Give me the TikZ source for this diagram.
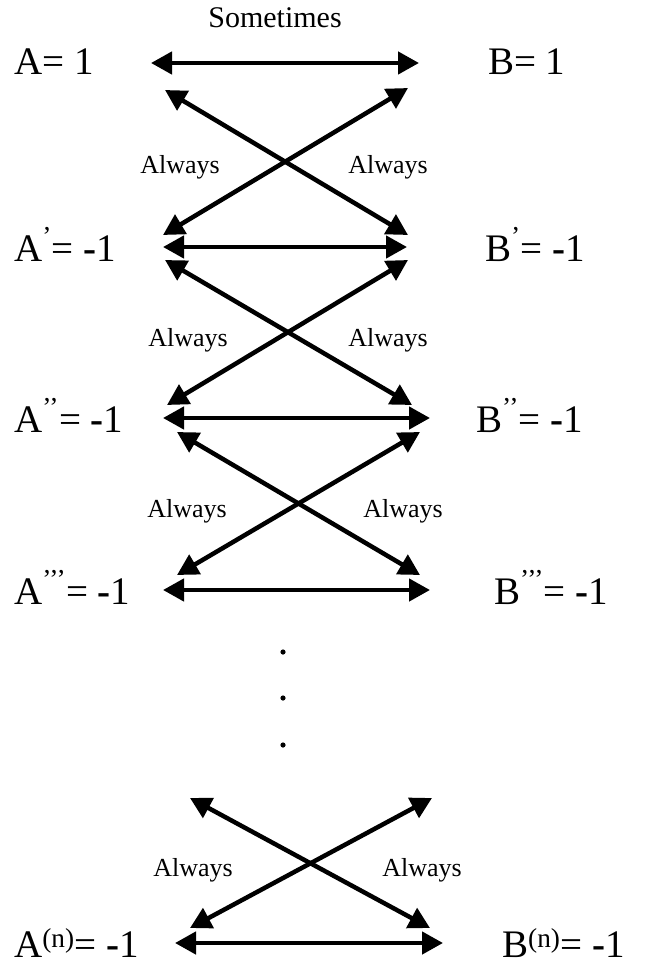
\documentclass[tikz,border=0pt]{standalone}
\usepackage{fontspec}
\setmainfont{Liberation Serif}
\usepackage{tikz}
\usetikzlibrary{arrows.meta}

\newcommand{\primes}[1]{\textsuperscript{\raisebox{0.25em}{#1}}}
\newcommand{\minus}{\textbf{-}}

\tikzset{
  eqlabel/.style={font=\fontsize{39}{43}\selectfont, anchor=base west, inner sep=0pt},
  wordlabel/.style={font=\fontsize{26}{30}\selectfont, anchor=base, inner sep=0pt},
  twoway/.style={{Triangle[length=21pt,width=22pt]}-{Triangle[length=21pt,width=22pt]}, line width=4.5pt}
}

\begin{document}
\begin{tikzpicture}[x=1pt, y=-1pt]
    \useasboundingbox (0,0) rectangle (649,968);

    % Top row
    \node[wordlabel, font=\fontsize{30}{34}\selectfont] (sometimes) at (275,28) {Sometimes};
    \node[eqlabel] (a0) at (14,75) {A= 1};
    \node[eqlabel] (b0) at (488,75) {B= 1};
    \coordinate (r0l) at (151,63);
    \coordinate (r0r) at (419,63);
    \draw[twoway] (r0l) -- (r0r);

    % First cross
    \coordinate (c1ul) at (165,90);
    \coordinate (c1ur) at (408,88);
    \coordinate (c1ll) at (163,235);
    \coordinate (c1lr) at (408,235);
    \draw[twoway] (c1ul) -- (c1lr);
    \draw[twoway] (c1ur) -- (c1ll);
    \node[wordlabel] (w1l) at (180,174) {Always};
    \node[wordlabel] (w1r) at (388,174) {Always};

    % Second row
    \node[eqlabel] (a1) at (14,261) {A\primes{’}= \minus1};
    \node[eqlabel] (b1) at (485,261) {B\primes{’}= \minus1};
    \coordinate (r1l) at (163,247);
    \coordinate (r1r) at (407,247);
    \draw[twoway] (r1l) -- (r1r);

    % Second cross
    \coordinate (c2ul) at (165,260);
    \coordinate (c2ur) at (408,260);
    \coordinate (c2ll) at (167,405);
    \coordinate (c2lr) at (412,405);
    \draw[twoway] (c2ul) -- (c2lr);
    \draw[twoway] (c2ur) -- (c2ll);
    \node[wordlabel] (w2l) at (188,346) {Always};
    \node[wordlabel] (w2r) at (388,346) {Always};

    % Third row
    \node[eqlabel] (a2) at (14,432) {A\primes{’’}= \minus1};
    \node[eqlabel] (b2) at (476,432) {B\primes{’’}= \minus1};
    \coordinate (r2l) at (163,418);
    \coordinate (r2r) at (430,418);
    \draw[twoway] (r2l) -- (r2r);

    % Third cross
    \coordinate (c3ul) at (177,432);
    \coordinate (c3ur) at (420,432);
    \coordinate (c3ll) at (177,575);
    \coordinate (c3lr) at (420,575);
    \draw[twoway] (c3ul) -- (c3lr);
    \draw[twoway] (c3ur) -- (c3ll);
    \node[wordlabel] (w3l) at (187,517) {Always};
    \node[wordlabel] (w3r) at (403,517) {Always};

    % Fourth row
    \node[eqlabel] (a3) at (14,604) {A\primes{’’’}= \minus1};
    \node[eqlabel] (b3) at (494,604) {B\primes{’’’}= \minus1};
    \coordinate (r3l) at (163,590);
    \coordinate (r3r) at (430,590);
    \draw[twoway] (r3l) -- (r3r);

    % Dots
    \fill (283,652) circle (2.6);
    \fill (283,698) circle (2.6);
    \fill (283,745) circle (2.6);

    % Last cross
    \coordinate (c4ul) at (190,798);
    \coordinate (c4ur) at (432,798);
    \coordinate (c4ll) at (190,928);
    \coordinate (c4lr) at (430,928);
    \draw[twoway] (c4ul) -- (c4lr);
    \draw[twoway] (c4ur) -- (c4ll);
    \node[wordlabel] (w4l) at (193,876) {Always};
    \node[wordlabel] (w4r) at (422,876) {Always};

    % Bottom row
    \node[eqlabel] (an) at (14,957) {A\textsuperscript{(n)}= \minus1};
    \node[eqlabel] (bn) at (502,957) {B\textsuperscript{(n)}= \minus1};
    \coordinate (rnl) at (175,943);
    \coordinate (rnr) at (443,943);
    \draw[twoway] (rnl) -- (rnr);
\end{tikzpicture}
\end{document}
